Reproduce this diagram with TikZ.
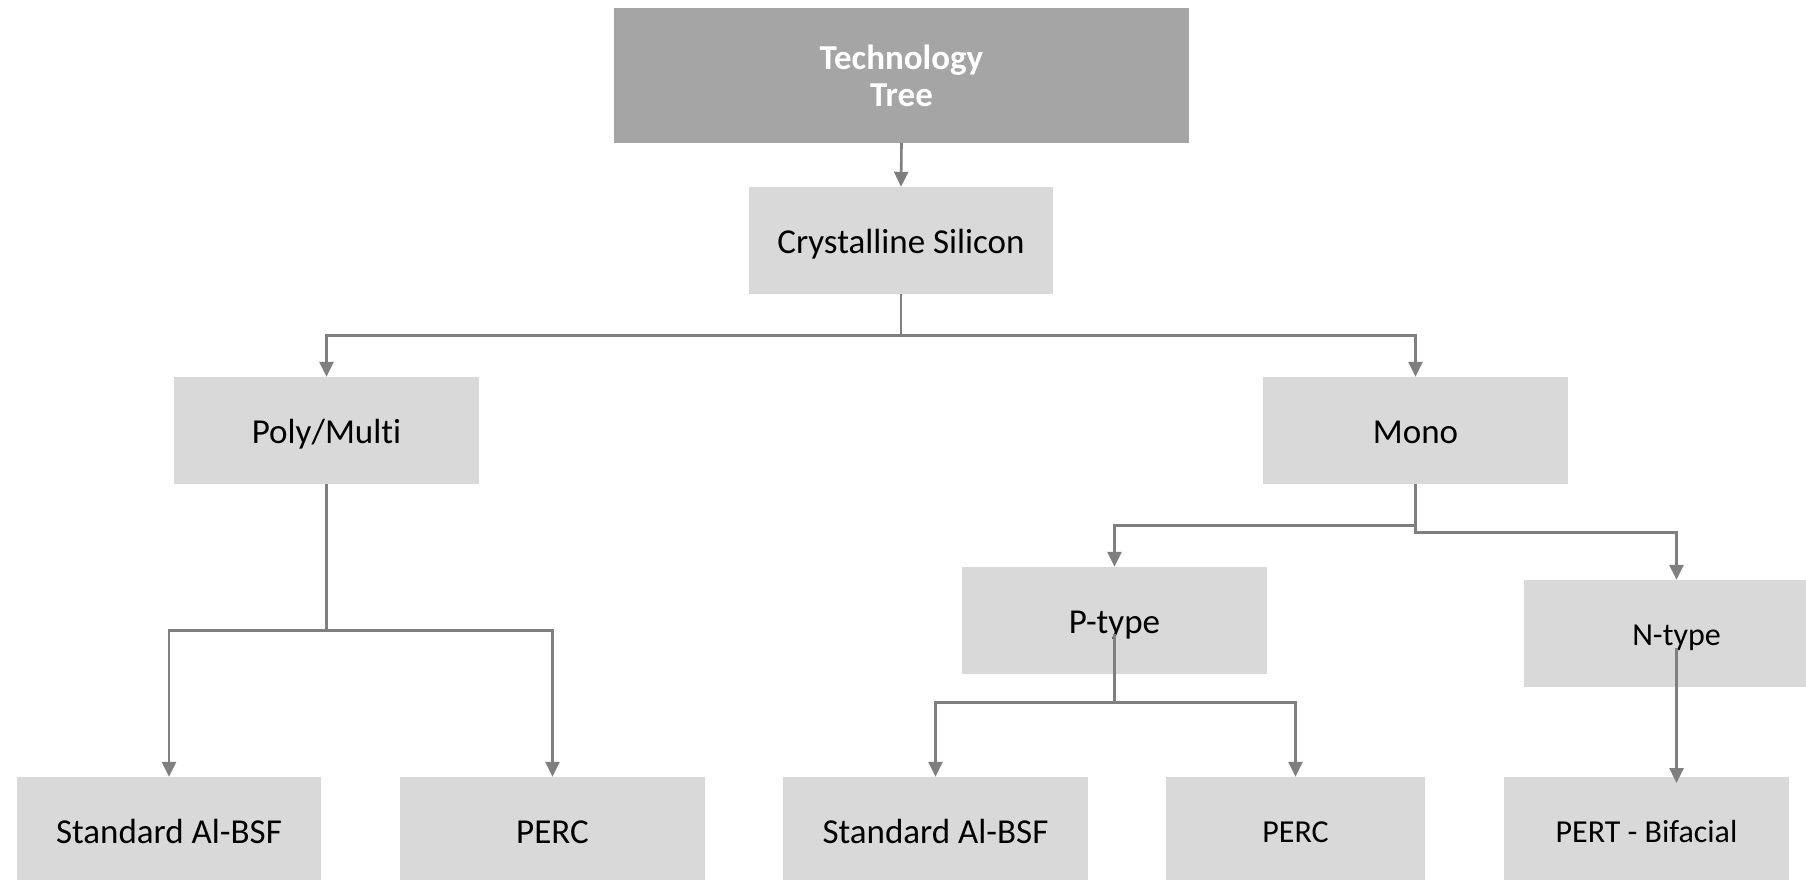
\documentclass[tikz,border=0pt]{standalone}
\usepackage{fontspec}
\setmainfont[Ligatures=NoCommon]{Carlito}
\usetikzlibrary{arrows.meta,calc}
\definecolor{topfill}{HTML}{A5A5A5}
\definecolor{boxfill}{HTML}{D9D9D9}
\definecolor{linegray}{HTML}{7F7F7F}
\begin{document}
\begin{tikzpicture}[x=1pt,y=-1pt,
  box/.style={fill=boxfill,draw=none,inner sep=0pt,minimum height=107pt,text height=25pt,text depth=0pt,text=black,font=\fontsize{35}{37}\selectfont},
  smalltext/.style={font=\fontsize{32}{34}\selectfont,text height=23pt},
  topbox/.style={fill=topfill,draw=none,inner sep=0pt,minimum width=575pt,minimum height=135pt,align=center,text=white,font=\fontsize{35}{37}\selectfont\bfseries},
  conn/.style={draw=linegray,line width=2.6pt},
  arr/.style={conn,-{Triangle[length=15pt,width=14pt]}}]
\useasboundingbox (0,0) rectangle (1806,880);
\clip (0,0) rectangle (1806,880);
\fill[white] (0,0) rectangle (1806,880);

\node[topbox] (top) at (901.5,75.5) {Technology\\Tree};
\node[box,minimum width=304pt] (crys) at (901,240.5) {Crystalline Silicon};
\node[box,minimum width=305pt] (poly) at (326.5,430.5) {Poly/Multi};
\node[box,minimum width=305pt] (mono) at (1415.5,430.5) {Mono};
\node[box,minimum width=305pt] (ptype) at (1114.5,620.5) {P-type};
\node[box,smalltext,minimum width=305pt] (ntype) at (1676.5,633.5) {N-type};
\node[box,minimum width=304pt] (stdL) at (169,830.5) {Standard Al-BSF};
\node[box,minimum width=305pt] (percL) at (552.5,830.5) {PERC};
\node[box,minimum width=305pt] (stdM) at (935.5,830.5) {Standard Al-BSF};
\node[box,smalltext,minimum width=259pt] (percM) at (1295.5,830.5) {PERC};
\node[box,smalltext,minimum width=285pt] (pert) at (1646.5,830.5) {PERT - Bifacial};

\coordinate (pstart) at ($(ptype.center)+(0,13)$);
\coordinate (nstart) at ($(ntype.center)+(0,14)$);
\coordinate (nend) at (1676.5,783);

\draw[arr] (top.south) -- (crys.north);
\draw[arr] (crys.south) -- ++(0,41) -| (poly.north);
\draw[arr] (crys.south) -- ++(0,41) -| (mono.north);
\draw[arr] (poly.south) -- ++(0,146) -| (stdL.north);
\draw[arr] (poly.south) -- ++(0,146) -| (percL.north);
\draw[arr] (mono.south) -- ++(0,41) -| (ptype.north);
\draw[arr] (mono.south) -- ++(0,48) -| (ntype.north);
\draw[arr] (pstart) -- ++(0,69) -| (stdM.north);
\draw[arr] (pstart) -- ++(0,69) -| (percM.north);
\draw[arr] (nstart) -- (nend);
\end{tikzpicture}
\end{document}
